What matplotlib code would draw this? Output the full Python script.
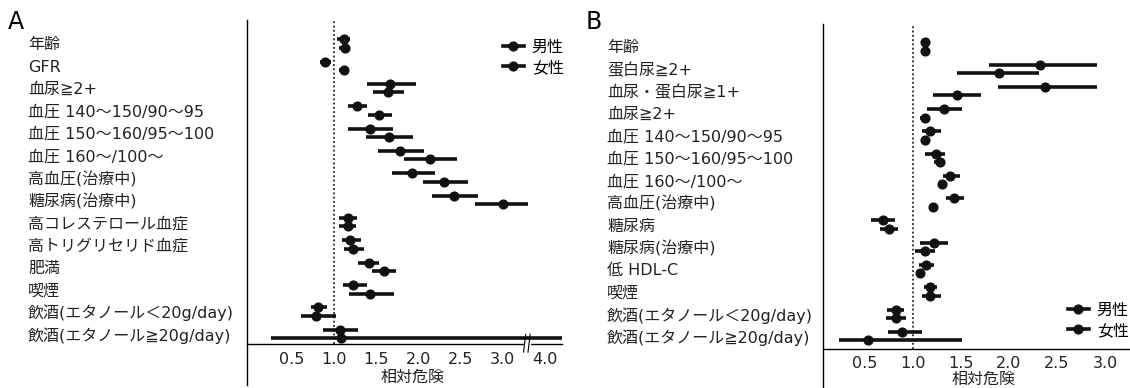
import numpy as np
import matplotlib
matplotlib.use('Agg')
import matplotlib.pyplot as plt
from matplotlib import transforms
from matplotlib.lines import Line2D

# Latin glyphs from DejaVu (wide digits), Japanese from Noto CJK
plt.rcParams['font.family'] = ['DejaVu Sans', 'Noto Sans CJK JP']

# --- panel A data (relative risk, lower / upper CI) ---
a_labels = ['年齢', 'GFR', '血尿≧2+', '血圧 140～150/90～95', '血圧 150～160/95～100',
            '血圧 160～/100～', '高血圧(治療中)', '糖尿病(治療中)', '高コレステロール血症',
            '高トリグリセリド血症', '肥満', '喫煙', '飲酒(エタノール＜20g/day)',
            '飲酒(エタノール≧20g/day)']
a_m = [1.12, 0.89, 1.67, 1.27, 1.43, 1.78, 1.93, 2.43, 1.16, 1.19, 1.41, 1.22, 0.81, 1.07]
a_m_lo = [1.04, 0.83, 1.39, 1.17, 1.16, 1.52, 1.69, 2.17, 1.06, 1.09, 1.28, 1.11, 0.72, 0.87]
a_m_hi = [1.19, 0.96, 1.98, 1.39, 1.70, 2.07, 2.20, 2.71, 1.27, 1.32, 1.54, 1.39, 0.92, 1.29]
a_f = [1.13, 1.12, 1.64, 1.54, 1.65, 2.14, 2.31, 3.01, 1.16, 1.22, 1.59, 1.43, 0.79, 1.08]
a_f_lo = [1.06, 1.06, 1.46, 1.40, 1.38, 1.83, 2.06, 2.68, 1.06, 1.12, 1.45, 1.18, 0.61, 0.25]
a_f_hi = [1.19, 1.18, 1.83, 1.69, 1.94, 2.46, 2.59, 3.32, 1.26, 1.36, 1.74, 1.71, 1.02, 6.0]
a_ticks = [0.5, 1.0, 1.5, 2.0, 2.5, 3.0, 4.0]

# --- panel B data ---
b_labels = ['年齢', '蛋白尿≧2+', '血尿・蛋白尿≧1+', '血尿≧2+', '血圧 140～150/90～95',
            '血圧 150～160/95～100', '血圧 160～/100～', '高血圧(治療中)', '糖尿病',
            '糖尿病(治療中)', '低 HDL-C', '喫煙', '飲酒(エタノール＜20g/day)',
            '飲酒(エタノール≧20g/day)']
b_m = [1.13, 2.32, 2.37, 1.32, 1.18, 1.24, 1.39, 1.43, 0.69, 1.22, 1.14, 1.18, 0.82, 0.89]
b_m_lo = [1.09, 1.79, 1.88, 1.15, 1.09, 1.13, 1.31, 1.34, 0.56, 1.07, 1.06, 1.11, 0.73, 0.74]
b_m_hi = [1.18, 2.92, 2.92, 1.51, 1.29, 1.33, 1.49, 1.53, 0.81, 1.36, 1.22, 1.25, 0.91, 1.09]
b_f = [1.13, 1.90, 1.46, 1.12, 1.13, 1.28, 1.30, 1.21, 0.75, 1.12, 1.07, 1.18, 0.82, 0.53]
b_f_lo = [1.08, 1.46, 1.21, 1.07, 1.08, 1.22, 1.26, 1.18, 0.66, 1.02, 1.03, 1.09, 0.72, 0.23]
b_f_hi = [1.17, 2.31, 1.71, 1.17, 1.18, 1.33, 1.34, 1.25, 0.84, 1.23, 1.12, 1.29, 0.93, 1.51]
b_ticks = [0.5, 1.0, 1.5, 2.0, 2.5, 3.0]

# broken x axis for panel A: compressed above BRK
BRK = 3.3
K = 0.3


def fwd(v):
    v = np.asarray(v, dtype=float)
    return np.where(v <= BRK, v, BRK + (v - BRK) * K)


def inv(u):
    u = np.asarray(u, dtype=float)
    return np.where(u <= BRK, u, BRK + (u - BRK) / K)


FS = 11.5
OFF = 0.19

fig = plt.figure(figsize=(11.3, 3.88), dpi=100)
axA = fig.add_axes([247 / 1130, 1 - 344 / 388, 315 / 1130, 324 / 388])
axB = fig.add_axes([823 / 1130, 1 - 349 / 388, 307 / 1130, 325 / 388])


def forest(ax, labels, m, mlo, mhi, f, flo, fhi, ticks, pad):
    y = np.arange(len(labels))
    m, mlo, mhi = np.array(m), np.array(mlo), np.array(mhi)
    f, flo, fhi = np.array(f), np.array(flo), np.array(fhi)
    ax.axvline(1.0, color='k', lw=1.1, ls=(0, (1.2, 1.6)), zorder=1)
    ax.errorbar(m, y - OFF, xerr=[m - mlo, mhi - m], fmt='o', color='#111111',
                ms=6.3, elinewidth=2.6, capsize=0, zorder=3)
    ax.errorbar(f, y + OFF, xerr=[f - flo, fhi - f], fmt='o', color='#111111',
                ms=6.3, elinewidth=2.6, capsize=0, zorder=3)
    ax.set_yticks(y, labels)
    ax.tick_params(axis='y', length=0, pad=pad, labelsize=FS, labelcolor='#222222')
    for t in ax.get_yticklabels():
        t.set_ha('left')
    ax.set_xticks(ticks, ['%.1f' % t for t in ticks])
    ax.tick_params(axis='x', length=0, labelsize=FS, labelcolor='#222222')
    for s in ['top', 'right', 'left']:
        ax.spines[s].set_visible(False)
    ax.spines['bottom'].set_linewidth(1.0)
    ax.set_xlabel('相対危険', fontsize=FS, color='#222222')


# panel A
axA.set_xscale('function', functions=(fwd, inv))
forest(axA, a_labels, a_m, a_m_lo, a_m_hi, a_f, a_f_lo, a_f_hi, a_ticks, 157.7)
axA.set_xlim(-0.036, 4.67)
axA.set_ylim(13.45, -1.05)
axA.tick_params(axis='x', pad=6)
axA.xaxis.set_label_coords(0.524, -0.08)
axA.plot([0, 0], [-0.127, 1], transform=axA.transAxes, color='k', lw=1.0, clip_on=False)

# break marks on the x axis
base = transforms.blended_transform_factory(axA.transData, axA.transAxes)
axA.plot([BRK], [0], transform=base, marker='s', ms=4, color='white', mec='white',
         clip_on=False, zorder=4)
for dx in (-1.6, 1.6):
    tr = transforms.offset_copy(base, fig=fig, x=dx, y=0, units='points')
    axA.plot([BRK - 0.02, BRK + 0.02], [-0.025, 0.03], transform=tr, color='k', lw=0.8,
             clip_on=False, zorder=5)

# panel B
forest(axB, b_labels, b_m, b_m_lo, b_m_hi, b_f, b_f_lo, b_f_hi, b_ticks, 155.5)
axB.set_xlim(0.0625, 3.26)
axB.set_ylim(13.58, -1.01)
axB.tick_params(axis='x', pad=5)
axB.xaxis.set_label_coords(0.524, -0.071)
axB.plot([0, 0], [-0.13, 1], transform=axB.transAxes, color='k', lw=1.0, clip_on=False)

# legends
handles = [Line2D([], [], color='#111111', marker='o', ms=6.3, lw=2.6),
           Line2D([], [], color='#111111', marker='o', ms=6.3, lw=2.6)]
for ax, (lx, ly) in [(axA, (503, 40)), (axB, (1068, 303))]:
    ax.legend(handles, ['男性', '女性'], loc='upper left',
              bbox_to_anchor=(lx / 1130, 1 - ly / 388), bbox_transform=fig.transFigure,
              frameon=False, fontsize=FS, borderpad=0, borderaxespad=0,
              handlelength=1.3, handletextpad=0.5, labelspacing=0.3)

fig.text(8 / 1130, 1 - 22 / 388, 'A', fontsize=17, va='center', ha='left')
fig.text(586 / 1130, 1 - 22 / 388, 'B', fontsize=17, va='center', ha='left')

fig.savefig('out.png', dpi=100)
